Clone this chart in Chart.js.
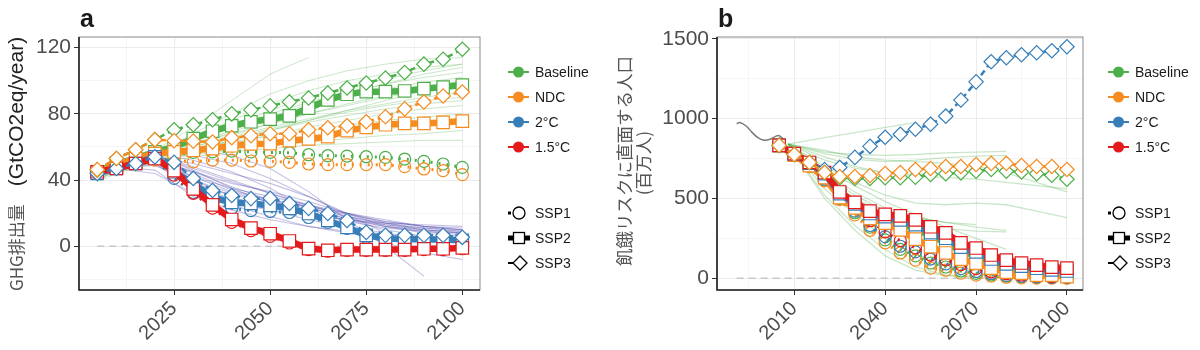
<!DOCTYPE html>
<html>
<head>
<meta charset="utf-8">
<script src="https://cdn.jsdelivr.net/npm/chart.js@4.4.0/dist/chart.umd.min.js"></script>
<style>
  body { margin: 0; background: #fff; width: 1200px; height: 350px; overflow: hidden; display: flex; }
  canvas { display: block; }
</style>
</head>
<body>
<canvas id="chartA" width="600" height="350" style="width:600px;height:350px"></canvas>
<canvas id="chartB" width="600" height="350" style="width:600px;height:350px"></canvas>
<script>
// common
const years = [2005, 2010, 2015, 2020, 2025, 2030, 2035, 2040, 2045, 2050,
               2055, 2060, 2065, 2070, 2075, 2080, 2085, 2090, 2095, 2100];
const scenarios = ['Baseline', 'NDC', '2°C', '1.5°C'];
const ssps = ['SSP1', 'SSP2', 'SSP3'];

// panel a: GHG emissions (GtCO2eq/year)
const ghgBaseSSP1 = [45, 48, 51, 54, 55, 56.7, 57, 57.5, 57, 56.7, 56.5, 55.3, 54.7, 54.5, 54.1, 53.7, 52.7, 51.3, 49.7, 47.7];
const ghgNdcSSP1  = [45, 48, 50, 52, 52, 51, 52, 52, 51.5, 51.3, 50.7, 49.7, 49.3, 49.3, 49.3, 49.3, 48.1, 46.7, 45.7, 43.3];
const ghg2cSSP1   = [44, 47, 50, 53, 41, 32.5, 27, 23, 21.5, 21, 20.4, 17.4, 14.4, 10.8, 5.4, 4, 3.8, 3.6, 3.5, 3.4];
const ghg15SSP1   = [44, 47, 50, 53, 43, 32, 23, 14.4, 9.5, 6, 2, -2, -3, -2.5, -2.5, -2.5, -2.5, -2, -2, -1.5];
const ghgBaseSSP2 = [45, 50, 53, 57, 60, 65, 69.5, 72.8, 75.2, 76.8, 78.8, 83.4, 88.4, 91.8, 93.4, 93.4, 93.8, 95.2, 96.2, 97.4];
const ghgNdcSSP2  = [45, 49, 53, 56, 57, 58, 59, 60.7, 61.8, 62, 63.8, 64.8, 66.2, 69.8, 71.8, 73.4, 74.2, 74.2, 74.8, 75.6];
const ghg2cSSP2   = [44, 47, 50, 54, 45, 37.9, 29.5, 26.5, 25.9, 24.7, 22.9, 19.8, 15.6, 11.4, 6.6, 4.8, 4.2, 4.2, 4, 3.6];
const ghg15SSP2   = [45, 47, 50, 53, 45.7, 34.7, 25, 16.2, 11, 7.6, 3.2, -1.4, -2.4, -2, -2, -2, -2, -1.5, -1.5, -1];
const ghgBaseSSP3 = [46, 53, 58.3, 64.4, 70.4, 73.4, 76.4, 80, 82.4, 84.8, 87.2, 89.6, 92.6, 95.6, 98.6, 101.6, 105, 110, 113, 119];
const ghgNdcSSP3  = [46.3, 53, 58.3, 64.4, 63.8, 63.5, 63, 65.6, 66.8, 68, 68, 70.4, 71.6, 72.8, 75.2, 78.2, 83, 87.2, 90.8, 93.2];
const ghg2cSSP3   = [44, 47, 50, 54, 50.7, 41, 33.7, 30.7, 28.8, 29, 25.9, 22.9, 19.8, 15.6, 8.4, 6.6, 6.6, 6.6, 6.6, 5.4];

// thin model runs behind panel a
const runYearsA = [2005, 2010, 2020, 2030, 2040, 2050, 2060, 2070, 2080, 2090, 2100];
const ghgBaseRuns = [
  [42, 47, 58, 72, 88, 104, 114, null, null, null, null],
  [40, 46, 56, 68, 80, 92, 100, 106, 110, 113, 114],
  [44, 48, 57, 66, 76, 86, 94, 100, 104, 108, 110],
  [43, 47, 55, 63, 72, 80, 87, 93, 98, 102, 105],
  [41, 45, 53, 61, 69, 77, 84, 90, 95, 99, 102],
  [45, 49, 56, 62, 68, 74, 80, 85, 90, 94, 97],
  [44, 48, 54, 59, 65, 71, 76, 81, 85, 88, 90],
  [39, 44, 51, 57, 62, 67, 72, 76, 80, 83, 85],
  [46, 50, 55, 59, 63, 67, 70, 73, 76, 78, 80],
  [42, 46, 52, 56, 60, 63, 66, 69, 71, 73, 75],
  [44, 47, 52, 55, 58, 61, 63, 65, 67, 68, 70],
  [40, 45, 50, 54, 57, 59, 61, 62, 63, 64, 64],
  [45, 48, 53, 58, 64, 70, 76, 82, 88, 94, 100],
  [43, 47, 54, 60, 67, 74, 80, 86, 91, 96, 100],
  [42, 46, 54, 62, 70, 78, 86, 92, 98, 104, 108],
  [44, 48, 55, 64, 73, 82, 90, 96, 101, 106, 110],
  [41, 45, 52, 58, 64, 70, 75, 79, 83, 86, 88],
  [43, 47, 53, 60, 66, 72, 77, 82, 86, 90, 93]
];
const ghgMitRuns = [
  [44, 50, 56, 52, 45, 35, 22, 10, 2, -4, -8],
  [45, 49, 55, 48, 40, 32, 24, 16, 10, 6, 4],
  [43, 48, 52, 40, 30, 22, 16, 11, 7, 4, 2],
  [44, 49, 50, 35, 25, 18, 12, 8, 5, 3, 2],
  [44, 48, 46, 30, 22, 16, 12, 9, 7, 6, 5],
  [45, 50, 53, 45, 38, 33, 27, 20, 14, 10, 8],
  [43, 48, 51, 42, 35, 30, 25, 20, 16, 12, 10],
  [44, 49, 54, 50, 44, 38, 30, 20, 12, 8, 6],
  [45, 50, 56, 55, 50, 41, 30, 19, 8, -3, null],
  [44, 49, 57, 58, 55, 47, 33, 16, 0, -18, null],
  [44, 48, 50, 38, 28, 24, 20, 16, 13, 11, 10],
  [44, 48, 52, 45, 36, 28, 21, 15, 11, 9, 8],
  [43, 47, 44, 32, 26, 22, 19, 16, 14, 13, 12],
  [45, 50, 55, 46, 35, 26, 18, 12, 8, 5, 3],
  [44, 49, 53, 40, 32, 27, 22, 17, 12, 9, 7],
  [45, 50, 54, 44, 34, 28, 24, 19, 15, 12, 10],
  [44, 48, 52, 36, 27, 23, 20, 16, 12, 10, 9],
  [43, 47, 49, 38, 31, 27, 23, 18, 14, 11, 9],
  [44, 49, 55, 47, 39, 32, 25, 18, 13, 10, 8],
  [45, 49, 52, 42, 33, 28, 24, 20, 15, 12, 11]
];

// panel b: population at risk of hunger (million)
const hunBaseSSP1 = [832, 770, 700, 615, 500, 410, 320, 240, 180, 140, 95, 70, 45, 30, 20, 12, 8, 5, 3, 2];
const hunNdcSSP1  = [832, 770, 700, 610, 492, 397, 300, 221, 158, 113, 63, 50, 32, 19, 13, 6, 2, 0, 0, 0];
const hun2cSSP1   = [832, 772, 705, 620, 510, 420, 330, 260, 200, 165, 120, 90, 60, 42, 28, 18, 12, 8, 6, 5];
const hun15SSP1   = [832, 775, 710, 630, 525, 440, 360, 290, 235, 190, 145, 115, 85, 60, 40, 28, 20, 14, 10, 8];
const hunBaseSSP2 = [832, 775, 715, 645, 520, 455, 395, 370, 345, 310, 265, 225, 170, 140, 100, 72, 58, 45, 38, 30];
const hunNdcSSP2  = [832, 770, 705, 630, 505, 440, 375, 345, 303, 245, 197, 158, 119, 95, 63, 38, 32, 19, 19, 10];
const hun2cSSP2   = [832, 778, 720, 655, 530, 465, 405, 385, 365, 335, 285, 250, 195, 165, 120, 90, 75, 62, 52, 45];
const hun15SSP2   = [832, 780, 725, 662, 540, 475, 420, 400, 390, 365, 322, 284, 221, 189, 145, 113, 95, 82, 69, 63];
const hunBaseSSP3 = [832, 775, 725, 662, 630, 625, 625, 630, 630, 632, 650, 655, 660, 670, 681, 670, 665, 655, 645, 620];
const hunNdcSSP3  = [832, 775, 725, 662, 637, 637, 643, 656, 662, 681, 687, 700, 700, 712, 719, 719, 706, 700, 700, 681];
const hun2cSSP3   = [832, 775, 725, 680, 694, 757, 826, 883, 902, 933, 965, 1015, 1116, 1230, 1356, 1381, 1400, 1412, 1425, 1450];

const histYears  = [1991, 1992, 1994, 1996, 1998, 2000, 2002, 2004, 2005, 2007];
const histHunger = [968, 975, 955, 915, 880, 864, 870, 890, 893, 860];

const runYearsB = [2008, 2020, 2030, 2040, 2050, 2060, 2070, 2080, 2090, 2100];
const hunBaseRuns = [
  [840, 880, 912, 945, 975, null, null, null, null, null],
  [840, 790, 775, 770, 775, 785, 790, 795, null, null],
  [840, 800, 760, 740, 730, 720, 700, 660, 600, 540],
  [840, 780, 745, 730, 740, 755, 765, 770, null, null],
  [840, 700, 600, 520, 470, 460, 470, 460, 420, 380],
  [840, 660, 540, 440, 380, 350, 335, null, null, null],
  [840, 640, 500, 410, 360, 310, 295, 290, null, null],
  [840, 600, 440, 320, 230, 180, 150, null, null, null],
  [840, 560, 400, 250, 150, 80, 50, null, null, null],
  [840, 520, 330, 180, 70, 20, 8, null, null, null],
  [840, 500, 300, 140, 50, 15, 5, 3, 2, 2],
  [840, 680, 580, 480, 400, 320, 250, 180, null, null],
  [840, 760, 700, 660, 640, 630, 620, 600, 580, 560],
  [840, 740, 690, 660, 650, 655, 665, null, null, null],
  [840, 650, 520, 420, 380, 350, 320, 300, null, null]
];

// ticks
const ghgTicks = [-20, 0, 20, 40, 60, 80, 100, 120];
const ghgYearTicks = [2012.5, 2025, 2037.5, 2050, 2062.5, 2075, 2087.5, 2100];
const hunTicks = [0, 250, 500, 750, 1000, 1250, 1500];
const hunYearTicks = [1995, 2010, 2025, 2040, 2055, 2070, 2085, 2100];

// styles
const colors = ['#4DAF4A', '#F68B1F', '#377EB8', '#E41A1C'];
const sspStyle = [
  {point: 'circle', r: 6, fill: 'rgba(0,0,0,0)', width: 3, dash: [2, 6]},
  {point: 'rect', r: 8.8, fill: '#ffffff', width: 6.5, dash: []},
  {point: 'rectRot', r: 7.2, fill: '#ffffff', width: 2.5, dash: [6, 4]}
];
const drawOrder = [[40, 39, 38, 37], [30, 29, 28, 27], [21, 20, 22, 23]];

function pts(xs, ys) {
  return ys.map((v, i) => ({x: xs[i], y: v}));
}

function series(values, scen, ssp) {
  const s = sspStyle[ssp];
  return {
    data: pts(years, values),
    borderColor: colors[scen], borderWidth: s.width, borderDash: s.dash,
    pointStyle: s.point, pointRadius: s.r, pointBorderWidth: 1.2,
    pointBorderColor: colors[scen], pointBackgroundColor: s.fill,
    order: drawOrder[ssp][scen], tension: 0
  };
}

function thin(xs, values, color, w) {
  return {data: pts(xs, values), borderColor: color, borderWidth: w, pointRadius: 0, order: 100, tension: 0};
}

function drawLegend(ctx, x0) {
  ctx.font = '14px "Liberation Sans", Arial, sans-serif';
  ctx.textBaseline = 'middle';
  const rows = [72, 97, 122, 147];
  scenarios.forEach((name, i) => {
    const y = rows[i];
    ctx.strokeStyle = colors[i]; ctx.lineWidth = 2;
    ctx.beginPath(); ctx.moveTo(x0, y); ctx.lineTo(x0 + 21, y); ctx.stroke();
    ctx.fillStyle = colors[i];
    ctx.beginPath(); ctx.arc(x0 + 10.5, y, 5.5, 0, Math.PI * 2); ctx.fill();
    ctx.fillStyle = '#1a1a1a';
    ctx.fillText(name, x0 + 27, y + 1);
  });
  const srows = [213, 238, 263];
  ctx.strokeStyle = '#000'; ctx.fillStyle = '#000';
  // SSP1
  ctx.fillRect(x0, srows[0] - 1.5, 3, 3);
  ctx.lineWidth = 1.3;
  ctx.beginPath(); ctx.arc(x0 + 11, srows[0], 6, 0, Math.PI * 2); ctx.stroke();
  // SSP2
  ctx.lineWidth = 5;
  ctx.beginPath(); ctx.moveTo(x0, srows[1]); ctx.lineTo(x0 + 22, srows[1]); ctx.stroke();
  ctx.fillStyle = '#fff'; ctx.lineWidth = 1.3;
  ctx.fillRect(x0 + 5.5, srows[1] - 5.5, 11, 11);
  ctx.strokeRect(x0 + 5.5, srows[1] - 5.5, 11, 11);
  // SSP3
  ctx.lineWidth = 2;
  ctx.beginPath(); ctx.moveTo(x0, srows[2]); ctx.lineTo(x0 + 6, srows[2]); ctx.stroke();
  ctx.lineWidth = 1.3;
  ctx.beginPath();
  ctx.moveTo(x0 + 5, srows[2]); ctx.lineTo(x0 + 12, srows[2] - 7);
  ctx.lineTo(x0 + 19, srows[2]); ctx.lineTo(x0 + 12, srows[2] + 7); ctx.closePath();
  ctx.fill(); ctx.stroke();
  ctx.fillStyle = '#1a1a1a';
  ssps.forEach((name, i) => ctx.fillText(name, x0 + 27, srows[i] + 1));
}

function decorations(letter, drawTitle) {
  return {
    id: 'decorations',
    afterDraw(chart) {
      const {ctx, chartArea: a} = chart;
      ctx.save();
      ctx.strokeStyle = '#8a8a8a'; ctx.lineWidth = 1;
      ctx.strokeRect(a.left, a.top, a.right - a.left, a.bottom - a.top);
      ctx.strokeStyle = '#222'; ctx.lineWidth = 1.6;
      ctx.beginPath(); ctx.moveTo(a.left, a.top); ctx.lineTo(a.left, a.bottom); ctx.lineTo(a.right, a.bottom); ctx.stroke();
      ctx.fillStyle = '#1a1a1a';
      ctx.font = 'bold 25px "Liberation Sans", Arial, sans-serif';
      ctx.textBaseline = 'alphabetic';
      ctx.fillText(letter, a.left + 1, 27);
      drawTitle(ctx);
      drawLegend(ctx, 508);
      ctx.restore();
    }
  };
}

function axes(xmin, xmax, xt, xlab, ymin, ymax, yt, ylab, yw) {
  const major = (list) => (c) => list.includes(c.tick.value);
  return {
    x: {
      type: 'linear', min: xmin, max: xmax, border: {display: false},
      afterBuildTicks: s => { s.ticks = xt.map(v => ({value: v})); },
      afterFit: s => { s.height = 60; },
      grid: {
        color: c => major(xlab)(c) ? '#ebebeb' : '#f5f5f5',
        tickColor: c => major(xlab)(c) ? '#333' : 'rgba(0,0,0,0)',
        tickLength: 5, lineWidth: 1
      },
      ticks: {
        autoSkip: false, minRotation: 45, maxRotation: 45, padding: 2,
        color: '#4d4d4d', font: {size: 20, family: '"Liberation Sans", Arial, sans-serif'},
        callback: v => xlab.includes(v) ? String(v) : ''
      }
    },
    y: {
      type: 'linear', min: ymin, max: ymax, border: {display: false},
      afterBuildTicks: s => { s.ticks = yt.map(v => ({value: v})); },
      afterFit: s => { s.width = yw; },
      grid: {
        color: c => major(ylab)(c) ? '#ebebeb' : '#f5f5f5',
        tickColor: c => major(ylab)(c) ? '#333' : 'rgba(0,0,0,0)',
        tickLength: 5, lineWidth: 1
      },
      ticks: {
        padding: 3, color: '#4d4d4d',
        font: {size: 21, family: '"Liberation Sans", Arial, sans-serif'},
        callback: v => ylab.includes(v) ? String(v) : ''
      }
    }
  };
}

const baseOptions = (scales, padRight) => ({
  responsive: false, animation: false,
  layout: {padding: {top: 37, right: padRight, left: 0, bottom: 0}},
  plugins: {legend: {display: false}, tooltip: {enabled: false}},
  scales: scales
});

// ---- panel a
const dsA = [
  series(ghgBaseSSP3, 0, 2), series(ghgNdcSSP3, 1, 2), series(ghg2cSSP3, 2, 2),
  series(ghgBaseSSP2, 0, 1), series(ghgNdcSSP2, 1, 1), series(ghg2cSSP2, 2, 1), series(ghg15SSP2, 3, 1),
  series(ghgBaseSSP1, 0, 0), series(ghgNdcSSP1, 1, 0), series(ghg2cSSP1, 2, 0), series(ghg15SSP1, 3, 0),
  {data: pts([2005, 2100], [0, 0]), borderColor: '#c8c8c8', borderWidth: 1.5, borderDash: [7, 5], pointRadius: 0, order: 90}
];
ghgBaseRuns.forEach(r => dsA.push(thin(runYearsA, r, 'rgba(77,175,74,0.3)', 1)));
ghgMitRuns.forEach(r => dsA.push(thin(runYearsA, r, 'rgba(60,50,165,0.3)', 1.1)));

new Chart(document.getElementById('chartA'), {
  type: 'line',
  data: {datasets: dsA},
  options: baseOptions(axes(2000.26, 2104.6, ghgYearTicks, [2025, 2050, 2075, 2100],
                            -26.4, 126.4, ghgTicks, [0, 40, 80, 120], 79), 120),
  plugins: [decorations('a', ctx => {
    ctx.save();
    ctx.translate(23, 291);
    ctx.rotate(-Math.PI / 2);
    ctx.textBaseline = 'alphabetic';
    ctx.font = '17px "Noto Sans CJK JP", sans-serif';
    ctx.fillStyle = '#555';
    ctx.fillText('GHG排出量', 0, 0);
    const w = ctx.measureText('GHG排出量').width;
    ctx.font = '21px "Liberation Sans", Arial, sans-serif';
    ctx.fillStyle = '#222';
    ctx.fillText('(GtCO2eq/year)', w + 18, 0);
    ctx.restore();
  })]
});

// ---- panel b
const dsB = [
  series(hunBaseSSP3, 0, 2), series(hunNdcSSP3, 1, 2), series(hun2cSSP3, 2, 2),
  series(hunBaseSSP2, 0, 1), series(hunNdcSSP2, 1, 1), series(hun2cSSP2, 2, 1), series(hun15SSP2, 3, 1),
  series(hunBaseSSP1, 0, 0), series(hunNdcSSP1, 1, 0), series(hun2cSSP1, 2, 0), series(hun15SSP1, 3, 0),
  {data: pts(histYears, histHunger), borderColor: '#7a7a7a', borderWidth: 1.5, pointRadius: 0, tension: 0.4, order: 50},
  {data: pts([1991, 2100], [0, 0]), borderColor: '#c8c8c8', borderWidth: 1.5, borderDash: [7, 5], pointRadius: 0, order: 90}
];
hunBaseRuns.forEach(r => dsB.push(thin(runYearsB, r, 'rgba(77,175,74,0.3)', 1.3)));

new Chart(document.getElementById('chartB'), {
  type: 'line',
  data: {datasets: dsB},
  options: baseOptions(axes(1984.5, 2105.3, hunYearTicks, [2010, 2040, 2070, 2100],
                            -74, 1511, hunTicks, [0, 500, 1000, 1500], 117), 117),
  plugins: [decorations('b', ctx => {
    ctx.save();
    ctx.translate(24, 161);
    ctx.rotate(-Math.PI / 2);
    ctx.textAlign = 'center';
    ctx.textBaseline = 'middle';
    ctx.fillStyle = '#555';
    ctx.font = '17.5px "Noto Sans CJK JP", sans-serif';
    ctx.fillText('飢餓リスクに直面する人口', 0, 0);
    ctx.fillText('(百万人)', -2, 19);
    ctx.restore();
  })]
});
</script>
</body>
</html>
